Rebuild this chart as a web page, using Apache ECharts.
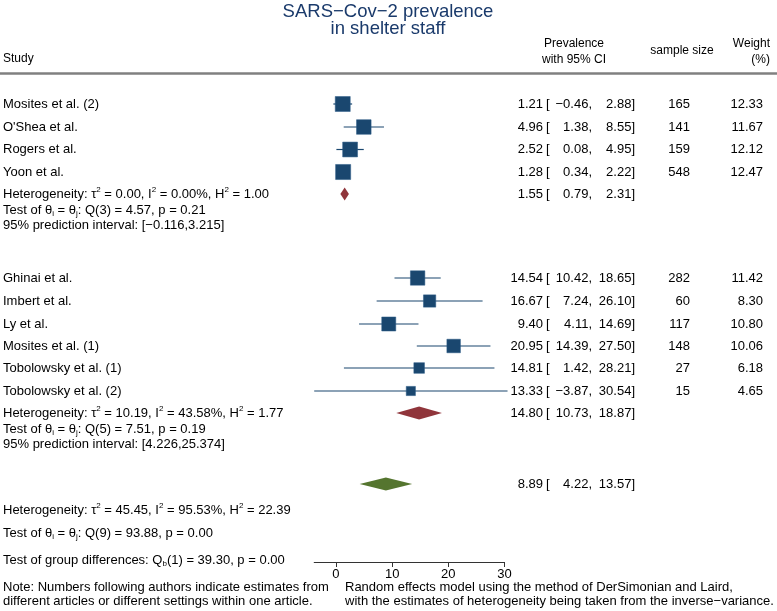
<!DOCTYPE html>
<html>
<head>
<meta charset="utf-8">
<script src="https://cdn.jsdelivr.net/npm/echarts@6/dist/echarts.min.js"></script>
<style>
html,body{margin:0;padding:0;background:#fff;}
#chart{width:777px;height:611px;}
</style>
</head>
<body>
<div id="chart"></div>
<script>
// ---------- DATA ----------
const studies = ['Mosites et al. (2)', "O'Shea et al.", 'Rogers et al.', 'Yoon et al.',
  'Ghinai et al.', 'Imbert et al.', 'Ly et al.', 'Mosites et al. (1)', 'Tobolowsky et al. (1)', 'Tobolowsky et al. (2)'];
const estimates = [1.21, 4.96, 2.52, 1.28, 14.54, 16.67, 9.40, 20.95, 14.81, 13.33];
const lowerCI = [-0.46, 1.38, 0.08, 0.34, 10.42, 7.24, 4.11, 14.39, 1.42, -3.87];
const upperCI = [2.88, 8.55, 4.95, 2.22, 18.65, 26.10, 14.69, 27.50, 28.21, 30.54];
const sampleSize = [165, 141, 159, 548, 282, 60, 117, 148, 27, 15];
const weights = [12.33, 11.67, 12.12, 12.47, 11.42, 8.30, 10.80, 10.06, 6.18, 4.65];
const pooledNames = ['Group 1', 'Group 2', 'Overall'];
const pooledEst = [1.55, 14.80, 8.89];
const pooledLower = [0.79, 10.73, 4.22];
const pooledUpper = [2.31, 18.87, 13.57];
const xTicks = [0, 10, 20, 30];
const xMin = -3.87, xMax = 30;

const titleLines = ['SARS\u2212Cov\u22122 prevalence', 'in shelter staff'];
const group1Stats = ['Heterogeneity: \u03C4{sup|2} = 0.00, I{sup|2} = 0.00%, H{sup|2} = 1.00',
  'Test of \u03B8{sub|i} = \u03B8{sub|j}: Q(3) = 4.57, p = 0.21',
  '95% prediction interval: [\u22120.116,3.215]'];
const group2Stats = ['Heterogeneity: \u03C4{sup|2} = 10.19, I{sup|2} = 43.58%, H{sup|2} = 1.77',
  'Test of \u03B8{sub|i} = \u03B8{sub|j}: Q(5) = 7.51, p = 0.19',
  '95% prediction interval: [4.226,25.374]'];
const overallStats = ['Heterogeneity: \u03C4{sup|2} = 45.45, I{sup|2} = 95.53%, H{sup|2} = 22.39',
  'Test of \u03B8{sub|i} = \u03B8{sub|j}: Q(9) = 93.88, p = 0.00',
  'Test of group differences: Q{sub|b}(1) = 39.30, p = 0.00'];
const noteLeft = ['Note: Numbers following authors indicate estimates from', 'different articles or different settings within one article.'];
const noteRight = ['Random effects model using the method of DerSimonian and Laird,', 'with the estimates of heterogeneity being taken from the inverse\u2212variance.'];

// ---------- LAYOUT ----------
const studyRowY = [104, 127, 149.5, 172, 278, 301, 324, 346, 368, 391];
const pooledRowY = [194, 413, 484];
const statsY = [[194, 210, 225], [413, 429, 444], [510, 533, 560]];
const FONT = 'Liberation Sans, Arial, Helvetica, sans-serif';
const NAVY = '#1a476f', MAROON = '#90353b', GREEN = '#55752f';
const colEstR = 543, colBrL = 546, colLoR = 592, colHiR = 635, colNR = 690, colWR = 763;

function fmt(v) { const s = Math.abs(v).toFixed(2); return (v < 0 ? '\u2212' : '') + s; }

const chart = echarts.init(document.getElementById('chart'));
const graphics = [];
function txt(x, y, text, opts) {
  graphics.push({type: 'text', x: x, y: y, silent: true, style: Object.assign({
    text: text, font: '13px ' + FONT, fill: '#000', textAlign: 'left', textVerticalAlign: 'middle',
    rich: {
      sup: {fontSize: 8, fontFamily: FONT, verticalAlign: 'top', lineHeight: 16},
      sub: {fontSize: 8, fontFamily: FONT, verticalAlign: 'bottom', lineHeight: 16},
    }
  }, opts || {})});
}
// title
txt(388, 12, titleLines[0], {font: '18.5px ' + FONT, fill: '#1a3a6b', textAlign: 'center'});
txt(388, 29, titleLines[1], {font: '18.5px ' + FONT, fill: '#1a3a6b', textAlign: 'center'});
// headers
txt(3, 59, 'Study', {font: '12px ' + FONT});
txt(574, 44, 'Prevalence', {font: '12px ' + FONT, textAlign: 'center'});
txt(574, 60, 'with 95% CI', {font: '12px ' + FONT, textAlign: 'center'});
txt(682, 51, 'sample size', {font: '12px ' + FONT, textAlign: 'center'});
txt(770, 44, 'Weight', {font: '12px ' + FONT, textAlign: 'right'});
txt(770, 60, '(%)', {font: '12px ' + FONT, textAlign: 'right'});
graphics.push({type: 'line', silent: true, shape: {x1: 0, y1: 73.5, x2: 777, y2: 73.5}, style: {stroke: '#808080', lineWidth: 2.5}});
// study rows
studies.forEach((s, i) => {
  const y = studyRowY[i];
  txt(3, y, s);
  txt(colEstR, y, estimates[i].toFixed(2), {textAlign: 'right'});
  txt(colBrL, y, '[');
  txt(colLoR, y, fmt(lowerCI[i]) + ',', {textAlign: 'right'});
  txt(colHiR, y, fmt(upperCI[i]) + ']', {textAlign: 'right'});
  txt(colNR, y, String(sampleSize[i]), {textAlign: 'right'});
  txt(colWR, y, weights[i].toFixed(2), {textAlign: 'right'});
});
pooledEst.forEach((v, i) => {
  const y = pooledRowY[i];
  txt(colEstR, y, v.toFixed(2), {textAlign: 'right'});
  txt(colBrL, y, '[');
  txt(colLoR, y, fmt(pooledLower[i]) + ',', {textAlign: 'right'});
  txt(colHiR, y, fmt(pooledUpper[i]) + ']', {textAlign: 'right'});
});
[group1Stats, group2Stats, overallStats].forEach((arr, g) => {
  arr.forEach((t, k) => txt(3, statsY[g][k], t));
});
noteLeft.forEach((t, k) => txt(3, 587 + k * 14, t));
noteRight.forEach((t, k) => txt(345, 587 + k * 14, t));

const studyData = studies.map((s, i) => [estimates[i], lowerCI[i], upperCI[i], studyRowY[i], weights[i]]);
const pooledData = pooledEst.map((v, i) => [v, pooledLower[i], pooledUpper[i], pooledRowY[i], i]);
const diamondColors = [MAROON, MAROON, GREEN];

chart.setOption({
  animation: false,
  backgroundColor: '#fff',
  grid: {left: 314.2, width: 190.3, top: 0, height: 562, containLabel: false},
  xAxis: {
    type: 'value', min: xMin, max: xMax, position: 'bottom',
    axisLine: {show: true, onZero: false, lineStyle: {color: '#333', width: 1}},
    axisTick: {show: true, inside: false, customValues: xTicks, length: 5, lineStyle: {color: '#333'}},
    axisLabel: {customValues: xTicks, color: '#000', fontSize: 13, fontFamily: FONT, margin: 6},
    splitLine: {show: false}
  },
  yAxis: {type: 'value', min: 0, max: 562, inverse: true, show: false},
  series: [
    {
      type: 'custom', clip: false, data: studyData,
      renderItem: function (params, api) {
        const y = api.value(3);
        const pE = api.coord([api.value(0), y]);
        const pL = api.coord([api.value(1), y]);
        const pH = api.coord([api.value(2), y]);
        const side = 4.27 * Math.sqrt(api.value(4));
        return {type: 'group', children: [
          {type: 'line', shape: {x1: pL[0], y1: pE[1], x2: pH[0], y2: pE[1]}, style: {stroke: NAVY, lineWidth: 1.2}},
          {type: 'rect', shape: {x: pE[0] - side / 2, y: pE[1] - side / 2, width: side, height: side}, style: {fill: NAVY, stroke: '#2a5a86', lineWidth: 0.5}}
        ]};
      }
    },
    {
      type: 'custom', clip: false, data: pooledData,
      renderItem: function (params, api) {
        const y = api.value(3);
        const pE = api.coord([api.value(0), y]);
        const pL = api.coord([api.value(1), y]);
        const pH = api.coord([api.value(2), y]);
        const h = 6.5;
        return {type: 'polygon', shape: {points: [[pL[0], pE[1]], [pE[0], pE[1] - h], [pH[0], pE[1]], [pE[0], pE[1] + h]]},
          style: {fill: diamondColors[api.value(4)]}};
      }
    }
  ],
  graphic: graphics
});
</script>
</body>
</html>
